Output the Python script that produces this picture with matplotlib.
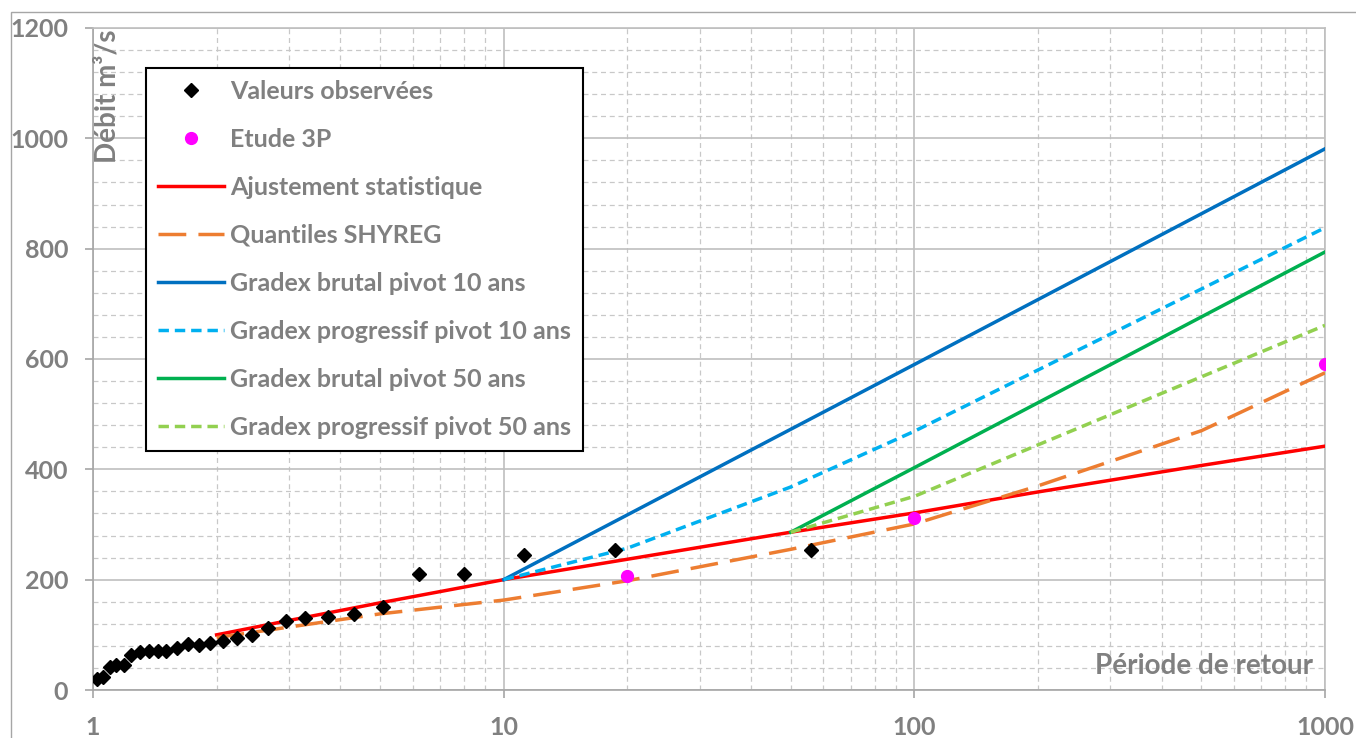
import matplotlib
matplotlib.use("Agg")
import matplotlib.pyplot as plt
import matplotlib.ticker as mtick
from matplotlib.patches import Rectangle

# DATA
T_obs = [1.02, 1.06, 1.10, 1.14, 1.19, 1.24, 1.30, 1.37, 1.44, 1.51, 1.60, 1.70, 1.81, 1.93,
         2.07, 2.24, 2.44, 2.67, 2.95, 3.29, 3.73, 4.31, 5.09, 6.22, 8.0, 11.2, 18.7, 56.0]
Q_obs = [20, 24, 41, 45, 46, 64, 69, 70, 71, 71, 76, 83, 82, 85,
         88, 94, 100, 113, 125, 130, 132, 137, 150, 211, 211, 244, 253, 253]

T_3p = [20, 100, 1000]
Q_3p = [207, 312, 591]

T_ajust = [2, 3, 5, 10, 20, 50, 100, 200, 500, 1000]
Q_ajust = [100, 126, 158, 200, 237, 286, 321, 359, 407, 442]

T_shyreg = [2, 5, 10, 20, 50, 100, 200, 500, 1000]
Q_shyreg = [95, 138, 163, 198, 255, 301, 370, 470, 575]

T_gb10 = [10, 100, 1000]
Q_gb10 = [200, 590, 981]

T_gp10 = [10, 20, 50, 100, 1000]
Q_gp10 = [200, 257, 368, 469, 838]

T_gb50 = [50, 100, 1000]
Q_gb50 = [286, 403, 794]

T_gp50 = [50, 100, 1000]
Q_gp50 = [286, 351, 661]

x_ticks = [1, 10, 100, 1000]
x_ticklabels = ["1", "10", "100", "1000"]
y_ticks = [0, 200, 400, 600, 800, 1000, 1200]

GREY = "#808080"
FONT = "Lato"

fig = plt.figure(figsize=(13.56, 7.38), dpi=100)
ax = fig.add_axes([93/1356, 48/738, 1232/1356, 662/738])

# outer chart border (only left / top visible)
fig.patches.append(Rectangle((10.5/1356, -0.5), 2, (738-11.5)/738 + 0.5,
                             transform=fig.transFigure, fill=False,
                             edgecolor="#a6a6a6", lw=1))

lw = 2.5
ax.plot(T_ajust, Q_ajust, color="#FF0000", lw=lw, label="Ajustement statistique", zorder=3)
ax.plot(T_shyreg, Q_shyreg, color="#ED7D31", lw=lw, dashes=(8, 3.5), label="Quantiles SHYREG", zorder=3)
ax.plot(T_gb10, Q_gb10, color="#0070C0", lw=lw, label="Gradex brutal pivot 10 ans", zorder=3)
ax.plot(T_gp10, Q_gp10, color="#00B0F0", lw=lw, dashes=(3.0, 1.7), label="Gradex progressif pivot 10 ans", zorder=3)
ax.plot(T_gb50, Q_gb50, color="#00B050", lw=lw, label="Gradex brutal pivot 50 ans", zorder=3)
ax.plot(T_gp50, Q_gp50, color="#92D050", lw=lw, dashes=(3.0, 1.7), label="Gradex progressif pivot 50 ans", zorder=3)
ax.plot(T_obs, Q_obs, linestyle="none", marker="D", color="black", markersize=7.5,
        label="Valeurs observées", zorder=5)
ax.plot(T_3p, Q_3p, linestyle="none", marker="o", color="#FF00FF", markersize=8.5,
        label="Etude 3P", zorder=6)

ax.set_xscale("log")
ax.set_xlim(1, 1000)
ax.set_ylim(0, 1200)
ax.set_xticks(x_ticks)
ax.set_xticklabels(x_ticklabels)
ax.xaxis.set_minor_locator(mtick.LogLocator(base=10, subs=range(2, 10)))
ax.xaxis.set_minor_formatter(mtick.NullFormatter())
ax.set_yticks(y_ticks)
ax.yaxis.set_minor_locator(mtick.MultipleLocator(40))

ax.grid(which="major", color="#bfbfbf", lw=1.2, linestyle="-", zorder=0)
ax.grid(which="minor", color="#c8c8c8", lw=0.9, dashes=(4, 3), zorder=0)
ax.set_axisbelow(True)
for s in ax.spines.values():
    s.set_color("#bfbfbf")
    s.set_linewidth(1.2)
ax.spines["left"].set_color("#a6a6a6")
ax.spines["bottom"].set_color("#a6a6a6")

ax.tick_params(axis="both", which="major", direction="out", length=6, width=1.2,
               color="#a6a6a6", labelcolor=GREY, labelsize=18)
ax.tick_params(axis="y", which="major", pad=12)
ax.tick_params(axis="x", which="major", pad=13)
ax.tick_params(axis="both", which="minor", length=0)
for lab in ax.get_xticklabels() + ax.get_yticklabels():
    lab.set_fontfamily(FONT)
    lab.set_fontweight("bold")

ax.text(0.0015, 0.997, "Débit m³/s", transform=ax.transAxes, rotation=90,
        ha="left", va="top", fontsize=20, color=GREY, family=FONT, fontweight="bold")
ax.text(0.990, 0.016, "Période de retour", transform=ax.transAxes,
        ha="right", va="bottom", fontsize=20, color=GREY, family=FONT, fontweight="bold")

handles, labels = ax.get_legend_handles_labels()
order = [6, 7, 0, 1, 2, 3, 4, 5]
leg = ax.legend([handles[i] for i in order], [labels[i] for i in order],
                loc="upper left", bbox_to_anchor=(53/1232, (690-68)/662),
                prop={"family": FONT, "weight": "bold", "size": 18},
                labelcolor=GREY, frameon=True, fancybox=False, edgecolor="black",
                framealpha=1, handlelength=2.64, handletextpad=0.25,
                labelspacing=1.0, borderpad=0.48, borderaxespad=0)
leg.get_frame().set_linewidth(1.5)

fig.savefig("out.png", dpi=100)
